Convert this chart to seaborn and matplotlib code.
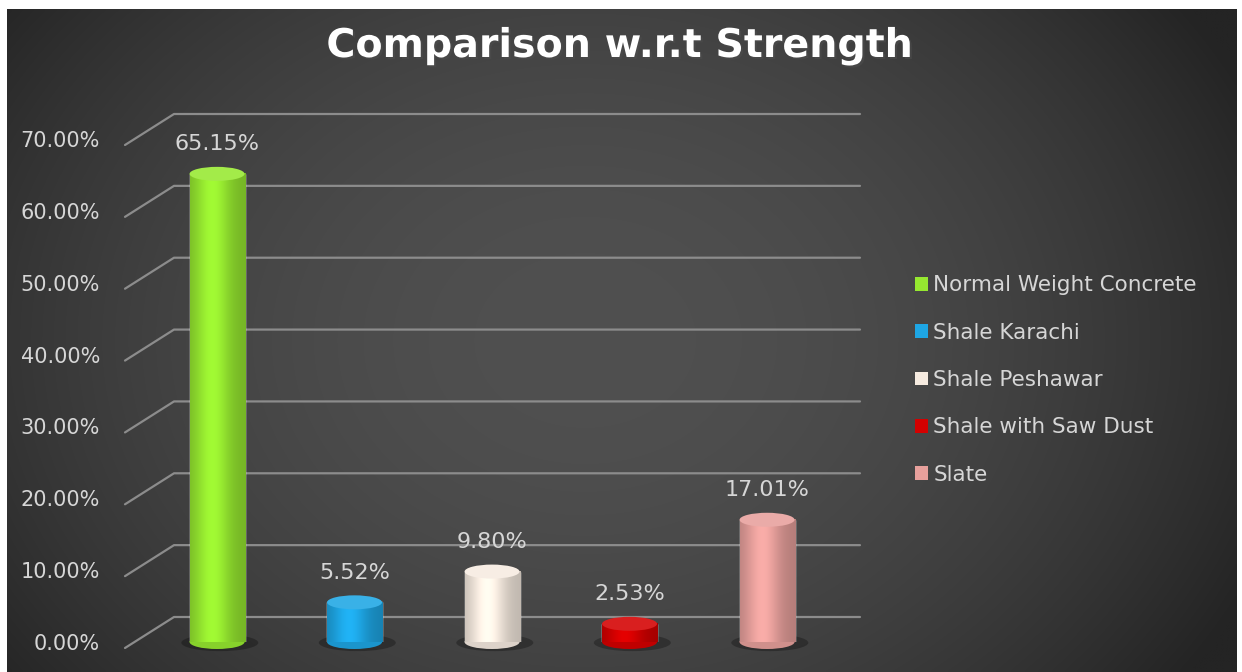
import numpy as np
import pandas as pd
import matplotlib
matplotlib.use("Agg")
import matplotlib.pyplot as plt
import seaborn as sns
from matplotlib.patches import Ellipse, Patch
from matplotlib.lines import Line2D
from matplotlib import patheffects as pe
from matplotlib.colors import to_rgb

# ---------------- data ----------------
categories = ["Normal Weight Concrete", "Shale Karachi", "Shale Peshawar",
              "Shale with Saw Dust", "Slate"]
values = [65.15, 5.52, 9.80, 2.53, 17.01]
colors = ["#96e830", "#1ea6e4", "#f6ebe0", "#d40000", "#e7a09c"]
y_ticks = [0, 10, 20, 30, 40, 50, 60, 70]
y_tick_labels = ["0.00%", "10.00%", "20.00%", "30.00%", "40.00%",
                 "50.00%", "60.00%", "70.00%"]
title = "Comparison w.r.t Strength"

# ---------------- style ----------------
sns.set_theme(style="dark")
plt.rcParams["font.family"] = ["DejaVu Sans"]
TXT = "#d6d6d6"

W, H, DPI = 1242, 672, 100
fig = plt.figure(figsize=(W / DPI, H / DPI), dpi=DPI, facecolor="white")

# background panel with soft radial gradient
bg = fig.add_axes([7 / W, 0, 1230 / W, 663 / H])
bg.set_zorder(0)
yy, xx = np.mgrid[0:1:200j, 0:1:400j]
r2 = ((xx - 0.47) / 0.75) ** 2 + ((yy - 0.5) / 1.1) ** 2
v = np.clip(80 - 69 * r2, 36, 80) / 255.0
bg.imshow(np.dstack([v, v, v]), extent=(0, 1, 0, 1), aspect="auto",
          interpolation="bilinear")
bg.set_axis_off()

# main axes
ax_left, ax_right = 130, 860
y0_px, y70_px = 642, 139
ax = fig.add_axes([ax_left / W, (H - y0_px) / H, (ax_right - ax_left) / W,
                   (y0_px - y70_px) / H])
ax.set_zorder(2)
ax.patch.set_alpha(0)

df = pd.DataFrame({"Material": categories, "Strength": values})
sns.barplot(data=df, x="Material", y="Strength", hue="Material",
            palette=colors, width=0.4, saturation=1, legend=False,
            ax=ax, zorder=2)

xlim = (-0.633, 4.676)
ylim = (0, 70)
ax.set_xlim(*xlim)
ax.set_ylim(*ylim)
for s in ax.spines.values():
    s.set_visible(False)
ax.grid(False)
ax.set_xticks([])
ax.set_xlabel("")
ax.set_ylabel("")
ax.set_yticks(y_ticks, y_tick_labels)
ax.tick_params(axis="y", length=0, pad=21.6, labelsize=15, labelcolor=TXT)

# back-wall gridlines with perspective connectors (behind the bars)
fig.canvas.draw()
yt = ax.get_yaxis_transform()
inv = fig.transFigure.inverted()
grid_x0 = (174 - ax_left) / (ax_right - ax_left)
diag_x0 = (125 - ax_left) / (ax_right - ax_left)
gcol = "#8c8c8c"
for t in y_ticks:
    a = yt.transform((diag_x0, t)) + np.array([0, -6])
    b = yt.transform((grid_x0, t)) + np.array([0, 25])
    c = yt.transform((1.0, t)) + np.array([0, 25])
    pts = inv.transform(np.array([a, b, c]))
    fig.add_artist(Line2D(pts[:, 0], pts[:, 1], color=gcol, lw=1.6,
                          transform=fig.transFigure, zorder=1))

# cylinder shading on bars
cap_h = 14 * 70 / (y0_px - y70_px)
tprof = np.linspace(0, 1, 60)
shade = 0.78 + 0.3 * np.exp(-((tprof - 0.4) / 0.32) ** 2)
for p, col in zip(ax.patches, colors):
    x0, w, h = p.get_x(), p.get_width(), p.get_height()
    base = np.array(to_rgb(col))
    img = np.clip(base[None, None, :] * shade[None, :, None], 0, 1)
    ax.add_patch(Ellipse((x0 + w / 2 + 0.02, -0.1), w * 1.4, cap_h * 1.2,
                         facecolor="black", alpha=0.28, edgecolor="none",
                         zorder=1.8, clip_on=False))
    ax.add_patch(Ellipse((x0 + w / 2, 0), w, cap_h,
                         facecolor=np.clip(base * 0.9, 0, 1), edgecolor="none",
                         zorder=2.05, clip_on=False))
    ax.imshow(img, extent=(x0, x0 + w, 0, h), aspect="auto",
              interpolation="bilinear", zorder=2.1)
    top = np.clip(base * 0.88 + 0.12, 0, 1)
    ax.add_patch(Ellipse((x0 + w / 2, h), w, cap_h, facecolor=top,
                         edgecolor="none", zorder=2.3, clip_on=False))

ax.set_xlim(*xlim)
ax.set_ylim(*ylim)
ax.set_aspect("auto")

# value labels
for cont, val in zip(ax.containers, values):
    ax.bar_label(cont, labels=[f"{val:.2f}%"], padding=14, color=TXT,
                 fontsize=16)

# legend
handles = [Patch(facecolor=c, edgecolor="none") for c in colors]
fig.legend(handles, categories, loc="center left",
           bbox_to_anchor=(915 / W, (H - 380) / H), frameon=False,
           fontsize=15.5, labelcolor=TXT, handlelength=0.6,
           handleheight=0.6, handletextpad=0.25, labelspacing=1.27,
           borderpad=0, borderaxespad=0)

# title
fig.text(620 / W, (H - 46) / H, title, ha="center", va="center",
         fontsize=28.5, fontweight="bold", color="white",
         path_effects=[pe.SimplePatchShadow(offset=(1.5, -1.5), alpha=0.6),
                       pe.Normal()])

fig.savefig("out.png", dpi=DPI)
